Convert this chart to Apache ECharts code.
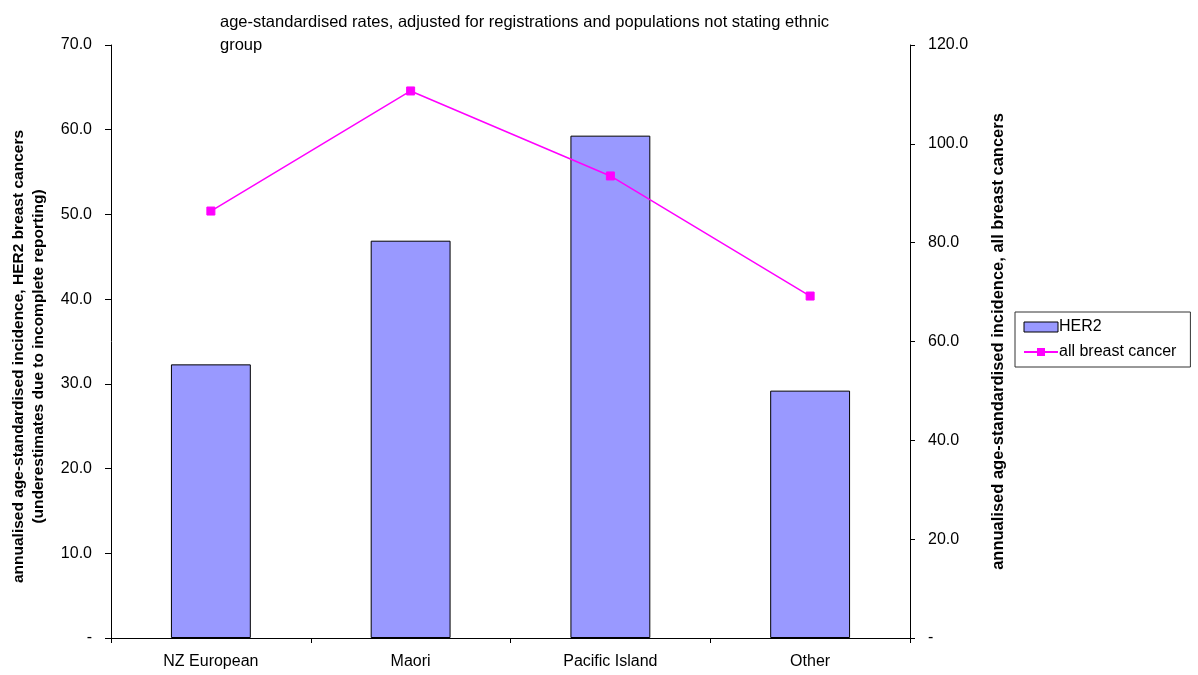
<!DOCTYPE html>
<html>
<head>
<meta charset="utf-8">
<script src="https://cdn.jsdelivr.net/npm/echarts@6/dist/echarts.min.js"></script>
<style>
  html, body { margin: 0; padding: 0; background: #fff; }
  #chart { width: 1198px; height: 675px; }
</style>
</head>
<body>
<div id="chart"></div>
<script>
// Ethnic groups along the category axis
const categories = ['NZ European', 'Maori', 'Pacific Island', 'Other'];
// Annualised age-standardised incidence of HER2 breast cancers (left axis)
const her2Values = [32.3, 46.9, 59.3, 29.2];
// Annualised age-standardised incidence of all breast cancers (right axis)
const allBreastValues = [86.4, 110.7, 93.5, 69.2];

const FONT = '"Liberation Sans", Arial, Helvetica, sans-serif';
const fmt = v => (v === 0 ? '-' : v.toFixed(1));

const chart = echarts.init(document.getElementById('chart'), null, { renderer: 'canvas' });

chart.setOption({
  animation: false,
  backgroundColor: '#ffffff',
  textStyle: { fontFamily: FONT, color: '#000' },
  title: {
    text: 'age-standardised rates, adjusted for registrations and populations not stating ethnic\ngroup',
    left: 215,
    top: 6,
    textStyle: { fontFamily: FONT, fontSize: 16.5, fontWeight: 'normal', color: '#000', lineHeight: 23 }
  },
  legend: {
    orient: 'vertical',
    left: 1015,
    top: 312,
    width: 175,
    padding: [7, 14, 7, 8],
    itemGap: 9,
    itemWidth: 34,
    itemHeight: 10,
    borderColor: '#333',
    borderWidth: 1,
    borderRadius: 0,
    textStyle: { fontFamily: FONT, fontSize: 16, color: '#000', padding: [0, 0, 0, -4] },
    data: [
      { name: 'HER2', icon: 'rect', itemStyle: { borderWidth: 1, borderColor: '#000' } },
      { name: 'all breast cancer' }
    ]
  },
  grid: { left: 111, right: 288, top: 45, bottom: 37, containLabel: false, outerBoundsMode: 'none' },
  xAxis: {
    type: 'category',
    data: categories,
    axisLine: { lineStyle: { color: '#000', width: 1 } },
    axisTick: { show: true, alignWithLabel: false, length: 5, lineStyle: { color: '#000' } },
    axisLabel: { fontFamily: FONT, fontSize: 16, color: '#000', margin: 16 }
  },
  yAxis: [
    {
      type: 'value',
      min: 0, max: 70, interval: 10,
      position: 'left',
      name: 'annualised age-standardised incidence, HER2 breast cancers\n(underestimates due to incomplete reporting)',
      nameLocation: 'middle',
      nameRotate: 90,
      nameGap: 62,
      nameTextStyle: {
        fontFamily: FONT, fontSize: 15.5, fontWeight: 'bold', color: '#000', lineHeight: 20,
        padding: [0, 30, 0, 0]
      },
      axisLine: { show: true, lineStyle: { color: '#000', width: 1 } },
      axisTick: { show: true, length: 6, lineStyle: { color: '#000' } },
      axisLabel: { fontFamily: FONT, fontSize: 16, color: '#000', margin: 19, formatter: fmt },
      splitLine: { show: false }
    },
    {
      type: 'value',
      min: 0, max: 120, interval: 20,
      position: 'right',
      name: 'annualised age-standardised incidence, all breast cancers',
      nameLocation: 'middle',
      nameRotate: 90,
      nameGap: 80,
      nameTextStyle: { fontFamily: FONT, fontSize: 16.5, fontWeight: 'bold', color: '#000' },
      axisLine: { show: true, lineStyle: { color: '#000', width: 1 } },
      axisTick: { show: true, length: 5, lineStyle: { color: '#000' } },
      axisLabel: { fontFamily: FONT, fontSize: 16, color: '#000', margin: 18, formatter: fmt },
      splitLine: { show: false }
    }
  ],
  series: [
    {
      name: 'HER2',
      type: 'bar',
      yAxisIndex: 0,
      data: her2Values,
      barWidth: '40%',
      itemStyle: { color: '#9999FF', borderColor: '#000', borderWidth: 1 }
    },
    {
      name: 'all breast cancer',
      type: 'line',
      yAxisIndex: 1,
      data: allBreastValues,
      symbol: 'rect',
      symbolSize: 8,
      lineStyle: { color: '#FF00FF', width: 1.5 },
      itemStyle: { color: '#FF00FF', borderColor: '#FF00FF' }
    }
  ]
});
</script>
</body>
</html>
